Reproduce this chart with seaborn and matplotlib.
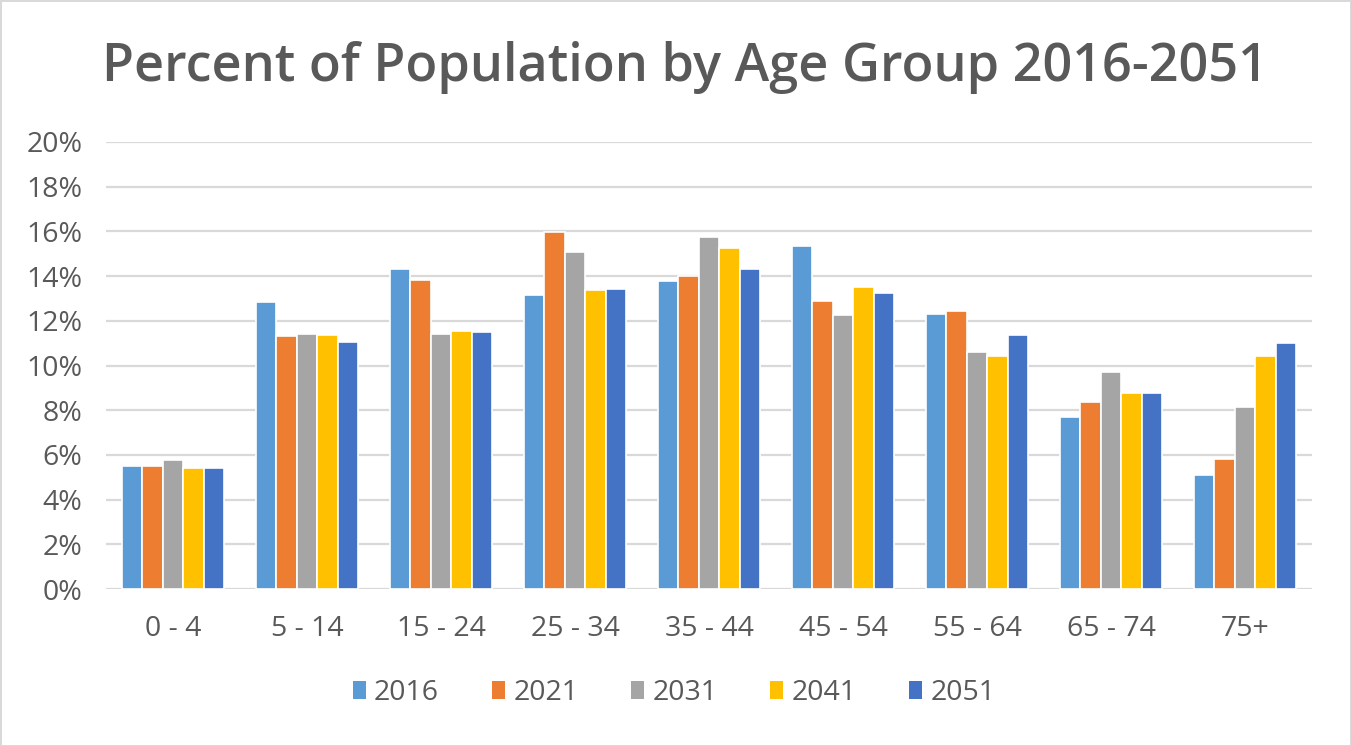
import matplotlib
matplotlib.use("Agg")
import matplotlib.pyplot as plt
import seaborn as sns
import pandas as pd
from matplotlib.patches import Patch
from matplotlib.ticker import FuncFormatter

age_groups = ["0 - 4", "5 - 14", "15 - 24", "25 - 34", "35 - 44", "45 - 54", "55 - 64", "65 - 74", "75+"]
years = ["2016", "2021", "2031", "2041", "2051"]
pct_2016 = [5.52, 12.84, 14.33, 13.17, 13.80, 15.35, 12.29, 7.70, 5.11]
pct_2021 = [5.50, 11.32, 13.83, 15.96, 14.02, 12.87, 12.45, 8.35, 5.80]
pct_2031 = [5.77, 11.42, 11.40, 15.08, 15.76, 12.25, 10.59, 9.69, 8.13]
pct_2041 = [5.43, 11.38, 11.53, 13.39, 15.26, 13.51, 10.43, 8.76, 10.41]
pct_2051 = [5.43, 11.04, 11.51, 13.42, 14.30, 13.26, 11.35, 8.76, 11.02]
colors = ["#5B9BD5", "#ED7D31", "#A5A5A5", "#FFC000", "#4472C4"]

series = [pct_2016, pct_2021, pct_2031, pct_2041, pct_2051]
rows = []
for yr, vals in zip(years, series):
    for ag, v in zip(age_groups, vals):
        rows.append({"age": ag, "year": yr, "pct": v})
df = pd.DataFrame(rows)

sns.set_theme(style="white")
plt.rcParams["font.family"] = ["Open Sans", "DejaVu Sans"]
text_color = "#595959"

fig = plt.figure(figsize=(13.51, 7.46), dpi=100)
fig.patch.set_facecolor("white")
fig.patch.set_edgecolor("#D9D9D9")
fig.patch.set_linewidth(2)

ax = fig.add_axes([106 / 1351, (746 - 589) / 746, (1312 - 106) / 1351, (589 - 142) / 746])
sns.barplot(data=df, x="age", y="pct", hue="year", hue_order=years, order=age_groups,
            palette=colors, width=0.76, edgecolor="white", linewidth=1.2,
            saturation=1, ax=ax, legend=False)

ax.set_ylim(0, 20)
ax.set_yticks(range(0, 21, 2))
ax.yaxis.set_major_formatter(FuncFormatter(lambda v, p: f"{int(v)}%"))
ax.grid(axis="y", color="#D9D9D9", linewidth=1.6)
ax.set_axisbelow(True)
for s in ax.spines.values():
    s.set_visible(False)
ax.set_xlabel("")
ax.set_ylabel("")
ax.tick_params(axis="both", length=0, labelsize=20.5, labelcolor=text_color)
ax.tick_params(axis="x", pad=19)
ax.tick_params(axis="y", pad=17)

fig.text(0.5 + 9 / 1351, 1 - 68 / 746, "Percent of Population by Age Group 2016-2051",
         ha="center", va="center", fontsize=37.6, fontweight="semibold", color=text_color)

handles = [Patch(facecolor=c, edgecolor="none") for c in colors]
fig.legend(handles, years, loc="center", bbox_to_anchor=(674 / 1351, 1 - 693 / 746),
           ncol=5, frameon=False, fontsize=20.5, labelcolor=text_color,
           handlelength=0.45, handleheight=0.6, handletextpad=0.3, columnspacing=1.85)

fig.savefig("out.png", dpi=100)
